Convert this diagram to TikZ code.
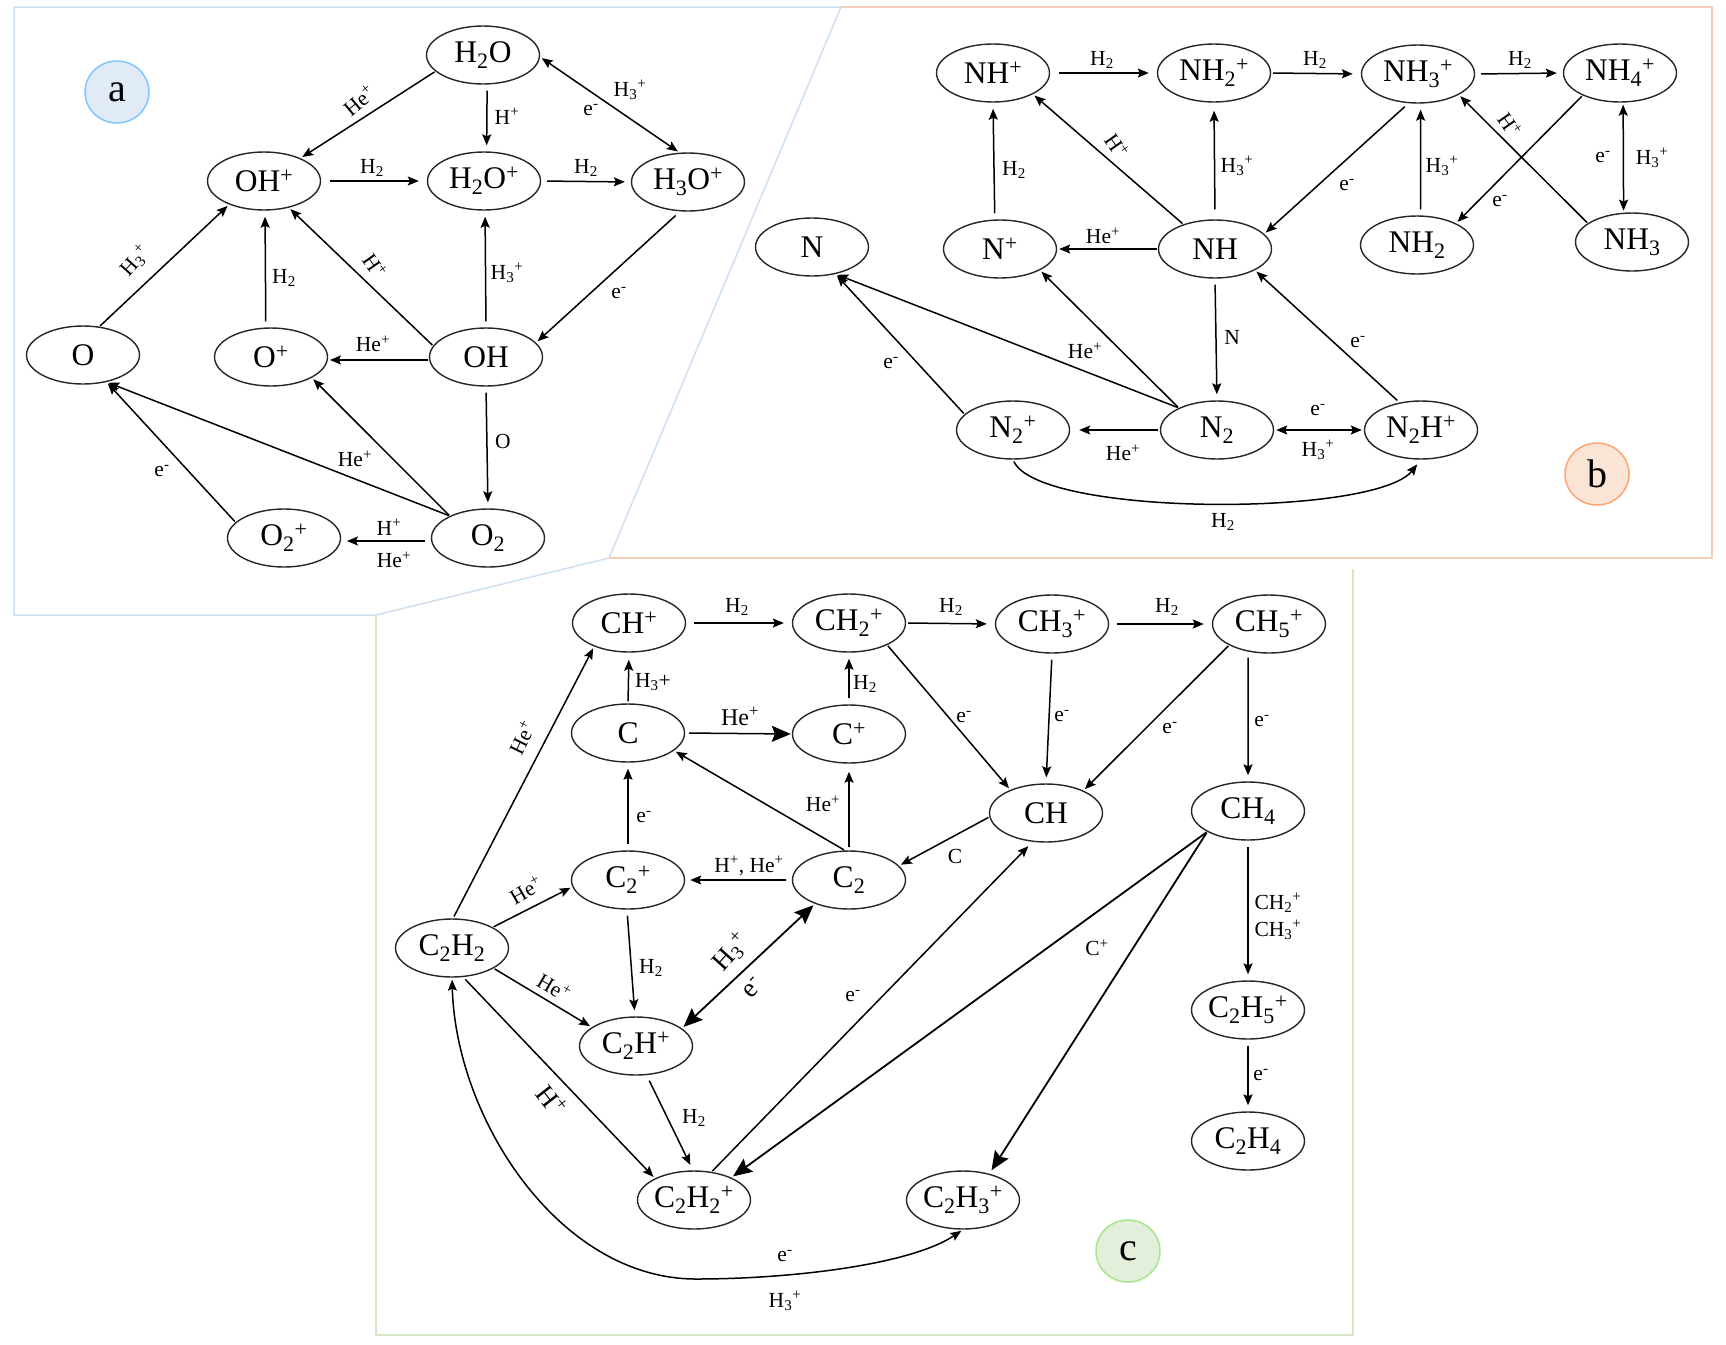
\documentclass[tikz,border=0pt]{standalone}
\usepackage{fontspec}
\setmainfont{Liberation Serif}
\usetikzlibrary{shapes.geometric,arrows.meta}
\newcommand\lo[1]{\textsubscript{#1}}
\newcommand\hi[1]{\textsuperscript{#1}}
\definecolor{frameA}{HTML}{CFE0F2}
\definecolor{frameB}{HTML}{F6CDB5}
\definecolor{frameC}{HTML}{D5E6C8}
\tikzset{
  species/.style={ellipse,draw=black!85,line width=1.4pt,minimum width=113pt,minimum height=58pt,inner sep=0pt,font=\fontsize{31.5}{34}\selectfont},
  lab/.style={inner sep=0pt,font=\fontsize{21.5}{24}\selectfont},
  biglab/.style={inner sep=0pt,font=\fontsize{27}{29}\selectfont},
  tip/.style={Stealth[length=11pt,width=9pt,inset=2pt]},
  bigtip/.style={Stealth[length=19pt,width=16pt,inset=3pt]},
  arr/.style={-{Stealth[length=11pt,width=9pt,inset=2pt]},line width=1.5pt,black,shorten >=2pt,shorten <=1pt},
  dbl/.style={{Stealth[length=11pt,width=9pt,inset=2pt]}-{Stealth[length=11pt,width=9pt,inset=2pt]},line width=1.5pt,black,shorten >=2pt,shorten <=2pt},
  heavy/.style={-{Stealth[length=19pt,width=16pt,inset=3pt]},line width=1.8pt,black,shorten >=2pt,shorten <=1pt},
  heavydbl/.style={{Stealth[length=19pt,width=16pt,inset=3pt]}-{Stealth[length=19pt,width=16pt,inset=3pt]},line width=1.8pt,black,shorten >=2pt,shorten <=2pt},
  gap/.style={shorten >=6pt,shorten <=6pt},
  badge/.style={ellipse,line width=1.5pt,minimum width=64pt,minimum height=62pt,inner sep=0pt,font=\fontsize{40}{42}\selectfont},
  panel/.style={line width=1.5pt}
}
\begin{document}
\begin{tikzpicture}[x=1pt,y=-1pt]
\useasboundingbox (0,0) rectangle (1726,1344);
\fill[white] (0,0) rectangle (1726,1344);

% panel outlines
\draw[panel,frameB] (841,7) -- (1712,7) -- (1712,558) -- (609,558);
\draw[panel,frameC] (376,615) -- (376,1335) -- (1353,1335) -- (1353,569);
\draw[panel,frameA] (841,7) -- (14,7) -- (14,615) -- (376,615) -- (609,558) -- (841,7);

% panel letters
\node[badge,draw=blue!45!cyan!50!white,fill=frameA!65] (ba) at (117,92) {a};
\node[badge,draw=orange!70!red!55!white,fill=frameB!55] (bb) at (1597,474) {b};
\node[badge,draw=green!55!olive!45!white,fill=frameC!65] (bc) at (1128,1251) {c};

% oxygen network
\node[species] (h2o) at (483,55) {H\lo{2}O};
\node[species] (ohp) at (264,181) {OH\hi{+}};
\node[species] (h2op) at (484,181) {H\lo{2}O\hi{+}};
\node[species] (h3op) at (688,182) {H\lo{3}O\hi{+}};
\node[species] (o) at (83,355) {O};
\node[species] (op) at (271,357) {O\hi{+}};
\node[species] (oh) at (486,357) {OH};
\node[species] (o2p) at (284,538) {O\lo{2}\hi{+}};
\node[species] (o2) at (488,538) {O\lo{2}};

\draw[arr] (h2o.199) -- (ohp.32);
\draw[arr,gap] (h2o.-82) -- (h2op.85);
\draw[dbl] (h2o.-2) -- (h3op.106);
\draw[arr,shorten >=8pt,shorten <=9pt] (ohp.0) -- (h2op.180);
\draw[arr,gap] (h2op.0) -- (h3op.180);
\draw[arr,shorten <=6pt] (h3op.-105) -- (oh.16);
\draw[arr,gap] (oh.90) -- (h2op.-88);
\draw[arr] (oh.168) -- (ohp.-47);
\draw[arr] (oh.183) -- (op.-3);
\draw[arr,gap] (op.100) -- (ohp.-88);
\draw[arr] (o.60) -- (ohp.214);
\draw[arr,gap] (oh.-90) -- (o2.90);
\draw[arr] (o2.150) -- (op.-27);
\draw[arr] (o2.150) -- (o.-49);
\draw[arr] (o2p.162) -- (o.-49);
\draw[arr,gap] (o2.183) -- (o2p.-3);

\node[lab,rotate=40] (la1) at (359,100) {He\hi{+}};
\node[lab] (la2) at (507,116) {H\hi{+}};
\node[lab] (la3) at (630,90) {H\lo{3}\hi{+}};
\node[lab] (la4) at (591,110) {e\hi{-}};
\node[lab] (la5) at (372,168) {H\lo{2}};
\node[lab] (la6) at (586,168) {H\lo{2}};
\node[lab,rotate=48] (la7) at (135,261) {H\lo{3}\hi{+}};
\node[lab] (la8) at (284,278) {H\lo{2}};
\node[lab,rotate=-55] (la9) at (375,266) {H\hi{+}};
\node[lab] (la10) at (507,273) {H\lo{3}\hi{+}};
\node[lab] (la11) at (619,293) {e\hi{-}};
\node[lab] (la12) at (373,344) {He\hi{+}};
\node[lab] (la13) at (503,441) {O};
\node[lab] (la14) at (355,459) {He\hi{+}};
\node[lab] (la15) at (162,471) {e\hi{-}};
\node[lab] (la16) at (389,527) {H\hi{+}};
\node[lab] (la17) at (394,560) {He\hi{+}};

% nitrogen network
\node[species] (nhp) at (993,73) {NH\hi{+}};
\node[species] (nh2p) at (1214,73) {NH\lo{2}\hi{+}};
\node[species] (nh3p) at (1418,74) {NH\lo{3}\hi{+}};
\node[species] (nh4p) at (1620,73) {NH\lo{4}\hi{+}};
\node[species] (n) at (812,247) {N};
\node[species] (np) at (1000,249) {N\hi{+}};
\node[species] (nh) at (1215,249) {NH};
\node[species] (nh2) at (1417,245) {NH\lo{2}};
\node[species] (nh3) at (1632,242) {NH\lo{3}};
\node[species] (n2p) at (1013,430) {N\lo{2}\hi{+}};
\node[species] (n2) at (1217,430) {N\lo{2}};
\node[species] (n2h) at (1421,430) {N\lo{2}H\hi{+}};

\draw[arr,shorten >=8pt,shorten <=9pt] (nhp.0) -- (nh2p.180);
\draw[arr,shorten >=8pt,shorten <=2pt] (nh2p.0) -- (nh3p.180);
\draw[arr,gap] (nh3p.0) -- (nh4p.180);
\draw[arr] (nh.142) -- (nhp.-28);
\draw[arr,gap] (np.100) -- (nhp.-90);
\draw[arr,shorten >=8pt,shorten <=10pt] (nh.90) -- (nh2p.-90);
\draw[arr,shorten <=5pt] (nh3p.252) -- (nh.17);
\draw[arr,gap] (nh2.83) -- (nh3p.-85);
\draw[arr] (nh4p.211) -- (nh2.29);
\draw[arr] (nh3.157) -- (nh3p.-27);
\draw[dbl] (nh4p.-84) -- (nh3.106);
\draw[arr] (nh.180) -- (np.0);
\draw[arr] (n2.150) -- (np.-28);
\draw[arr] (n2.150) -- (n.-49);
\draw[arr] (n2p.162) -- (n.-49);
\draw[arr,gap] (nh.-90) -- (n2.90);
\draw[arr,shorten <=3pt] (n2h.128) -- (nh.-28);
\draw[arr,shorten >=9pt,shorten <=2pt] (n2.180) -- (n2p.0);
\draw[dbl] (n2.0) -- (n2h.180);
\draw[arr,shorten <=2pt,shorten >=6pt] (n2p.-90) .. controls (1040,517) and (1375,517) .. (n2h.-90);

\node[lab] (lb1) at (1102,60) {H\lo{2}};
\node[lab] (lb2) at (1315,60) {H\lo{2}};
\node[lab] (lb3) at (1520,60) {H\lo{2}};
\node[lab,rotate=-55] (lb4) at (1117,146) {H\hi{+}};
\node[lab] (lb5) at (1014,170) {H\lo{2}};
\node[lab] (lb6) at (1237,166) {H\lo{3}\hi{+}};
\node[lab] (lb7) at (1347,185) {e\hi{-}};
\node[lab] (lb8) at (1442,166) {H\lo{3}\hi{+}};
\node[lab] (lb9) at (1500,201) {e\hi{-}};
\node[lab,rotate=-55] (lb10) at (1510,125) {H\hi{+}};
\node[lab] (lb11) at (1603,157) {e\hi{-}};
\node[lab] (lb12) at (1652,158) {H\lo{3}\hi{+}};
\node[lab] (lb13) at (1103,236) {He\hi{+}};
\node[lab] (lb14) at (1085,351) {He\hi{+}};
\node[lab] (lb15) at (1232,337) {N};
\node[lab] (lb16) at (1358,342) {e\hi{-}};
\node[lab] (lb17) at (891,363) {e\hi{-}};
\node[lab] (lb18) at (1318,410) {e\hi{-}};
\node[lab] (lb19) at (1318,450) {H\lo{3}\hi{+}};
\node[lab] (lb20) at (1123,453) {He\hi{+}};
\node[lab] (lb21) at (1223,522) {H\lo{2}};

% carbon network
\node[species] (chp) at (629,623) {CH\hi{+}};
\node[species] (ch2p) at (849,623) {CH\lo{2}\hi{+}};
\node[species] (ch3p) at (1052,624) {CH\lo{3}\hi{+}};
\node[species] (ch5p) at (1269,624) {CH\lo{5}\hi{+}};
\node[species] (c) at (628,733) {C};
\node[species] (cp) at (849,734) {C\hi{+}};
\node[species] (ch) at (1046,813) {CH};
\node[species] (ch4) at (1248,811) {CH\lo{4}};
\node[species] (c2p) at (628,880) {C\lo{2}\hi{+}};
\node[species] (c2) at (849,880) {C\lo{2}};
\node[species] (c2h2) at (452,948) {C\lo{2}H\lo{2}};
\node[species] (c2hp) at (636,1046) {C\lo{2}H\hi{+}};
\node[species] (c2h5p) at (1248,1010) {C\lo{2}H\lo{5}\hi{+}};
\node[species] (c2h4) at (1248,1141) {C\lo{2}H\lo{4}};
\node[species] (c2h2p) at (694,1200) {C\lo{2}H\lo{2}\hi{+}};
\node[species] (c2h3p) at (963,1200) {C\lo{2}H\lo{3}\hi{+}};
\coordinate (cbottom) at (696,1279);

\draw[arr,shorten >=8pt,shorten <=8pt] (chp.0) -- (ch2p.180);
\draw[arr,shorten >=8pt,shorten <=2pt] (ch2p.0) -- (ch3p.180);
\draw[arr,shorten >=8pt,shorten <=8pt] (ch3p.0) -- (ch5p.180);
\draw[arr,shorten >=7pt,shorten <=2pt] (c.90) -- (chp.-90);
\draw[arr,gap] (cp.90) -- (ch2p.-90);
\draw[heavy,shorten >=1pt,shorten <=4pt,line width=1.5pt] (c.0) -- (cp.180);
\draw[arr] (c2.98) -- (c.-21);
\draw[arr,shorten >=8pt,shorten <=3pt] (c2.90) -- (cp.-90);
\draw[arr,gap] (c2p.90) -- (c.-90);
\draw[arr,shorten >=5pt,shorten <=6pt] (c2.180) -- (c2p.0);
\draw[arr,shorten <=2pt] (c2h2.88) -- (chp.214);
\draw[arr] (c2h2.27) -- (c2p.187);
\draw[arr,gap] (c2p.-92) -- (c2hp.92);
\draw[arr] (c2h2.-26) -- (c2hp.157);
\draw[heavydbl] (c2.215) -- (c2hp.21);
\draw[arr] (ch.184) -- (c2.16);
\draw[arr,shorten >=6pt] (c2h2p.58) -- (ch.-115);
\draw[arr] (ch2p.-30) -- (ch.147);
\draw[arr,gap] (ch3p.-90) -- (ch.90);
\draw[arr] (ch5p.208) -- (ch.31);
\draw[arr,gap] (ch5p.233) -- (ch4.90);
\draw[heavy] (ch4.207) -- (c2h2p.31);
\draw[heavy,shorten >=4pt] (ch4.207) -- (c2h3p.45);
\draw[arr,gap] (ch4.-90) -- (c2h5p.90);
\draw[arr,gap] (c2h5p.-90) -- (c2h4.90);
\draw[arr,shorten <=3pt] (c2h2.-69) -- (c2h2p.151);
\draw[arr,gap] (c2hp.-70) -- (c2h2p.92);
\draw[dbl] (c2h2.-90) .. controls (456,1120) and (560,1279) .. (cbottom) .. controls (790,1279) and (910,1265) .. (c2h3p.-90);

\node[lab,rotate=64] (lc1) at (522,738) {He\hi{+}};
\node[lab] (lc2) at (653,682) {H\lo{3}+};
\node[lab] (lc3) at (737,607) {H\lo{2}};
\node[lab] (lc4) at (951,607) {H\lo{2}};
\node[lab] (lc29) at (1167,607) {H\lo{2}};
\node[biglab,font=\fontsize{24}{26}\selectfont] (lc5) at (740,716) {He\hi{+}};
\node[lab] (lc6) at (865,684) {H\lo{2}};
\node[lab] (lc7) at (823,804) {He\hi{+}};
\node[lab] (lc8) at (644,817) {e\hi{-}};
\node[lab] (lc9) at (749,866) {H\hi{+}, He\hi{+}};
\node[lab] (lc10) at (955,856) {C};
\node[lab,rotate=30] (lc11) at (526,890) {He\hi{+}};
\node[lab,rotate=-30] (lc12) at (554,987) {He\hi{+}};
\node[lab] (lc13) at (651,968) {H\lo{2}};
\node[biglab,rotate=48] (lc14) at (731,952) {H\lo{3}\hi{+}};
\node[biglab,rotate=48] (lc15) at (753,988) {e\hi{-}};
\node[lab] (lc16) at (853,996) {e\hi{-}};
\node[lab] (lc17) at (964,717) {e\hi{-}};
\node[lab] (lc18) at (1062,716) {e\hi{-}};
\node[lab] (lc19) at (1170,728) {e\hi{-}};
\node[lab] (lc20) at (1262,721) {e\hi{-}};
\node[lab] (lc21) at (1278,903) {CH\lo{2}\hi{+}};
\node[lab] (lc22) at (1278,930) {CH\lo{3}\hi{+}};
\node[lab] (lc23) at (1097,948) {C\hi{+}};
\node[lab] (lc24) at (1261,1075) {e\hi{-}};
\node[biglab,rotate=-52] (lc25) at (552,1100) {H\hi{+}};
\node[lab] (lc26) at (694,1118) {H\lo{2}};
\node[lab] (lc27) at (785,1256) {e\hi{-}};
\node[lab] (lc28) at (785,1301) {H\lo{3}\hi{+}};
\end{tikzpicture}
\end{document}
